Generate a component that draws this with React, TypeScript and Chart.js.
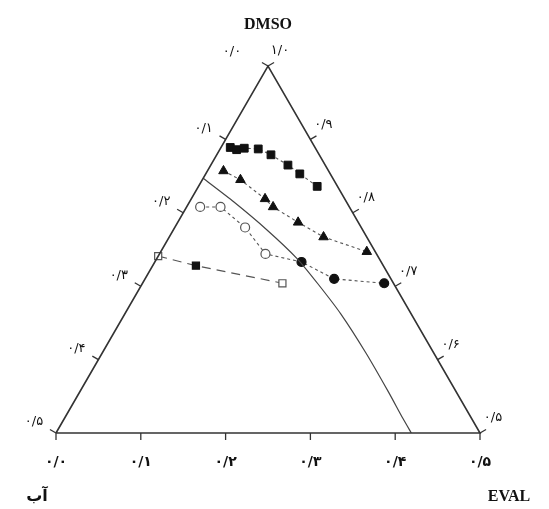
import React, { useEffect, useRef } from "react";
import { Chart, registerables } from "chart.js";

Chart.register(...registerables);

// Ternary compositions (mass fractions). Water = 1 - EVAL - DMSO.
// Series 1: filled squares (top curve)
const sqEval = [0.011, 0.020, 0.028, 0.045, 0.064, 0.091, 0.111, 0.140];
const sqDmso = [0.889, 0.886, 0.888, 0.887, 0.879, 0.865, 0.853, 0.836];
// Series 2: filled triangles
const triEval = [0.019, 0.045, 0.087, 0.102, 0.142, 0.182, 0.243];
const triDmso = [0.857, 0.845, 0.819, 0.808, 0.787, 0.767, 0.747];
// Series 3: circles (first four open, last three filled)
const cirEval = [0.016, 0.040, 0.083, 0.125, 0.173, 0.223, 0.285];
const cirDmso = [0.808, 0.808, 0.780, 0.744, 0.733, 0.710, 0.704];
const cirOpen = [true, true, true, true, false, false, false];
// Series 4: squares on long-dashed line (open, filled, open)
const lowEval = [0.0, 0.051, 0.165];
const lowDmso = [0.741, 0.728, 0.704];
const lowOpen = [true, false, true];
// Binodal (solid) curve
const binEval = [0.0, 0.052, 0.110, 0.165, 0.2075, 0.255, 0.311, 0.364, 0.399, 0.419];
const binDmso = [0.847, 0.815, 0.777, 0.738, 0.703, 0.662, 0.609, 0.556, 0.520, 0.5];

// Diagram corners (EVAL, DMSO)
const cornerEval = [0, 0.5, 0, 0];
const cornerDmso = [0.5, 0.5, 1, 0.5];

// Axis ticks
const tickSteps = [0, 0.1, 0.2, 0.3, 0.4, 0.5];
const bottomLabels = ["۰/۰", "۰/۱", "۰/۲", "۰/۳", "۰/۴", "۰/۵"]; // EVAL
const leftLabels = ["۰/۰", "۰/۱", "۰/۲", "۰/۳", "۰/۴", "۰/۵"]; // water
const rightLabels = ["۱/۰", "۰/۹", "۰/۸", "۰/۷", "۰/۶", "۰/۵"]; // DMSO
const topTitle = "DMSO";
const leftCornerTitle = "آب";
const rightCornerTitle = "EVAL";

const toXY = (e: number, d: number) => ({ x: e + (d - 0.5) / 2, y: d - 0.5 });
const pts = (es: number[], ds: number[]) => es.map((e, i) => toXY(e, ds[i]));

const ternaryPlugin = {
  id: "ternaryDecor",
  afterDatasetsDraw(chart: any) {
    const ctx = chart.ctx as CanvasRenderingContext2D;
    const xs = chart.scales.x;
    const ys = chart.scales.y;
    const px = (e: number, d: number) => {
      const p = toXY(e, d);
      return [xs.getPixelForValue(p.x), ys.getPixelForValue(p.y)];
    };
    ctx.save();
    ctx.strokeStyle = "#333";
    ctx.lineWidth = 1.3;
    ctx.fillStyle = "#111";
    ctx.textAlign = "center";
    ctx.textBaseline = "middle";
    const L = 7;
    tickSteps.forEach((t, i) => {
      // bottom (EVAL)
      const [bx, by] = px(t, 0.5);
      ctx.beginPath();
      ctx.moveTo(bx, by);
      ctx.lineTo(bx, by + L);
      ctx.stroke();
      ctx.font = "bold 14px 'DejaVu Sans'";
      ctx.fillText(bottomLabels[i], bx, by + 29);
      // left (water)
      const [lx, ly] = px(0, 1 - t);
      ctx.beginPath();
      ctx.moveTo(lx, ly);
      ctx.lineTo(lx - L * 0.866, ly - L * 0.5);
      ctx.stroke();
      ctx.font = "13px 'DejaVu Sans'";
      if (i === 0) ctx.fillText(leftLabels[i], lx - 36, ly - 14);
      else ctx.fillText(leftLabels[i], lx - 22, ly - 11);
      // right (DMSO)
      const [rx, ry] = px(t, 1 - t);
      ctx.beginPath();
      ctx.moveTo(rx, ry);
      ctx.lineTo(rx + L * 0.866, ry - L * 0.5);
      ctx.stroke();
      if (i === 0) ctx.fillText(rightLabels[i], rx + 12, ry - 15);
      else ctx.fillText(rightLabels[i], rx + 13, ry - 15);
    });
    const [ax, ay] = px(0, 1);
    const [wx, wy] = px(0, 0.5);
    const [ex, ey] = px(0.5, 0.5);
    ctx.font = "bold 16px 'Liberation Serif'";
    ctx.fillText(topTitle, ax, ay - 41);
    ctx.fillText(rightCornerTitle, ex + 29, ey + 64);
    ctx.font = "bold 16px 'DejaVu Sans'";
    ctx.fillText(leftCornerTitle, wx - 19, wy + 64);
    ctx.restore();
  },
};

export default function App() {
  const ref = useRef<HTMLCanvasElement | null>(null);
  useEffect(() => {
    if (!ref.current) return;
    const lineGray = "#555";
    const black = "#111";
    const chart = new Chart(ref.current, {
      type: "scatter",
      data: {
        datasets: [
          {
            data: pts(cornerEval, cornerDmso),
            showLine: true,
            borderColor: "#333",
            borderWidth: 1.6,
            pointRadius: 0,
            clip: false as any,
          },
          {
            data: pts(binEval, binDmso),
            showLine: true,
            borderColor: "#444",
            borderWidth: 1.2,
            pointRadius: 0,
            tension: 0.2,
            clip: false as any,
          },
          {
            data: pts(sqEval, sqDmso),
            showLine: true,
            borderColor: lineGray,
            borderWidth: 1.1,
            borderDash: [3, 3],
            pointStyle: "rect",
            pointRadius: 5.5,
            pointBackgroundColor: black,
            pointBorderColor: black,
            pointBorderWidth: 1,
            clip: false as any,
          },
          {
            data: pts(triEval, triDmso),
            showLine: true,
            borderColor: lineGray,
            borderWidth: 1.1,
            borderDash: [3, 3],
            pointStyle: "triangle",
            pointRadius: 5.5,
            pointBackgroundColor: black,
            pointBorderColor: black,
            pointBorderWidth: 1,
            clip: false as any,
          },
          {
            data: pts(cirEval, cirDmso),
            showLine: true,
            borderColor: lineGray,
            borderWidth: 1.1,
            borderDash: [3, 3],
            pointStyle: "circle",
            pointRadius: 4.5,
            pointBackgroundColor: cirOpen.map((o) => (o ? "#fff" : black)),
            pointBorderColor: cirOpen.map((o) => (o ? "#555" : black)),
            pointBorderWidth: 1.2,
            clip: false as any,
          },
          {
            data: pts(lowEval, lowDmso),
            showLine: true,
            borderColor: lineGray,
            borderWidth: 1.1,
            borderDash: [9, 6],
            pointStyle: "rect",
            pointRadius: 5,
            pointBackgroundColor: lowOpen.map((o) => (o ? "#fff" : black)),
            pointBorderColor: lowOpen.map((o) => (o ? "#555" : black)),
            pointBorderWidth: 1.2,
            clip: false as any,
          },
        ] as any,
      },
      options: {
        animation: false,
        responsive: false,
        events: [],
        layout: { padding: { left: 56, right: 69, top: 66, bottom: 76 } },
        plugins: { legend: { display: false }, tooltip: { enabled: false } },
        scales: {
          x: { type: "linear", min: 0, max: 0.5, display: false },
          y: { type: "linear", min: 0, max: 0.5, display: false },
        },
      },
      plugins: [ternaryPlugin],
    });
    return () => chart.destroy();
  }, []);
  return (
    <div style={{ position: "absolute", left: 0, top: 0, width: 549, height: 509, background: "#fff" }}>
      <canvas ref={ref} width={549} height={509} style={{ display: "block" }} />
    </div>
  );
}
